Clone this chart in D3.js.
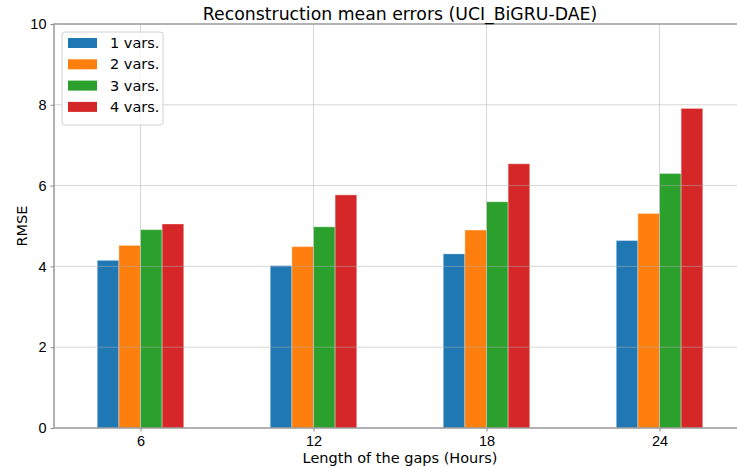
<!DOCTYPE html>
<html>
<head>
<meta charset="utf-8">
<script src="https://cdn.jsdelivr.net/npm/d3@7"></script>
<style>
  body { margin: 0; background: #fff; }
  svg { display: block; font-family: "DejaVu Sans", sans-serif; }
  .tick text { font-size: 14.5px; fill: #000; }
</style>
</head>
<body>
<svg id="chart"></svg>
<script>
// gap lengths (hours) on the x axis
const gaps = [6, 12, 18, 24];
const seriesNames = ['1 vars.', '2 vars.', '3 vars.', '4 vars.'];
// RMSE per series, one value per gap length
const vars1 = [4.15, 4.02, 4.31, 4.64];
const vars2 = [4.52, 4.49, 4.90, 5.31];
const vars3 = [4.91, 4.98, 5.60, 6.30];
const vars4 = [5.05, 5.77, 6.54, 7.91];
const yTicks = [0, 2, 4, 6, 8, 10];

const seriesValues = [vars1, vars2, vars3, vars4];
const colors = ['#1f77b4', '#ff7f0e', '#2ca02c', '#d62728'];

const width = 737, height = 469;
const margin = {top: 24, right: -9, bottom: 41, left: 54};
const innerW = width - margin.left - margin.right;
const innerH = height - margin.top - margin.bottom;

const svg = d3.select('#chart')
    .attr('width', width)
    .attr('height', height);

const chart = svg.append('g')
    .attr('transform', `translate(${margin.left},${margin.top})`);

// linear x scale so bars sit around the tick like matplotlib's offset bars
const xScale = d3.scaleLinear().domain([3, 27]).range([0, innerW]);
const yScale = d3.scaleLinear().domain([0, 10]).range([innerH, 0]);
const barW = 0.75;

// bars
seriesValues.forEach((vals, i) => {
  chart.selectAll(`.bar-${i}`)
    .data(vals.map((v, j) => ({x: gaps[j], y: v})))
    .join('rect')
      .attr('class', `bar-${i}`)
      .attr('x', d => xScale(d.x + (i - 2) * barW))
      .attr('width', xScale(barW) - xScale(0))
      .attr('y', d => yScale(d.y))
      .attr('height', d => innerH - yScale(d.y))
      .attr('fill', colors[i])
      .attr('stroke', '#fff')
      .attr('stroke-opacity', 0.35)
      .attr('stroke-width', 1);
});

// grid on top of bars
const grid = chart.append('g').attr('class', 'grid');
grid.selectAll('.hgrid')
  .data(yTicks.slice(1, -1))
  .join('line')
    .attr('x1', 0).attr('x2', innerW)
    .attr('y1', d => yScale(d)).attr('y2', d => yScale(d))
    .attr('stroke', '#b0b0b0').attr('stroke-opacity', 0.5).attr('stroke-width', 1);
grid.selectAll('.vgrid')
  .data(gaps)
  .join('line')
    .attr('x1', d => xScale(d)).attr('x2', d => xScale(d))
    .attr('y1', 0).attr('y2', innerH)
    .attr('stroke', '#b0b0b0').attr('stroke-opacity', 0.5).attr('stroke-width', 1);

// axes
const xAxis = d3.axisBottom(xScale).tickValues(gaps).tickSize(3.5).tickPadding(4).tickSizeOuter(0);
const yAxis = d3.axisLeft(yScale).tickValues(yTicks).tickSize(3.5).tickPadding(4).tickSizeOuter(0);

const xAxisG = chart.append('g')
    .attr('transform', `translate(0,${innerH})`)
    .call(xAxis);
const yAxisG = chart.append('g').call(yAxis);

[xAxisG, yAxisG].forEach(g => {
  g.select('.domain').remove();
  g.selectAll('.tick line').attr('stroke', '#888');
});

// spines
chart.append('rect')
    .attr('x', 0).attr('y', 0)
    .attr('width', innerW).attr('height', innerH)
    .attr('fill', 'none')
    .attr('stroke', '#999')
    .attr('stroke-width', 1.5);

// title and axis labels
svg.append('text')
    .attr('x', margin.left + innerW / 2)
    .attr('y', 20)
    .attr('text-anchor', 'middle')
    .style('font-size', '17.3px')
    .text('Reconstruction mean errors (UCI_BiGRU-DAE)');

svg.append('text')
    .attr('x', margin.left + innerW / 2)
    .attr('y', 463)
    .attr('text-anchor', 'middle')
    .style('font-size', '14.5px')
    .text('Length of the gaps (Hours)');

svg.append('text')
    .attr('transform', `translate(27,${margin.top + innerH / 2}) rotate(-90)`)
    .attr('text-anchor', 'middle')
    .style('font-size', '14.5px')
    .text('RMSE');

// legend
const legend = chart.append('g').attr('transform', 'translate(8,8)');
legend.append('rect')
    .attr('width', 101).attr('height', 93)
    .attr('rx', 3)
    .attr('fill', '#fff').attr('fill-opacity', 0.8)
    .attr('stroke', '#d0d0d0');
const items = legend.selectAll('.item')
  .data(seriesNames)
  .join('g')
    .attr('transform', (d, i) => `translate(6,${11 + i * 21.3})`);
items.append('rect')
    .attr('y', -5)
    .attr('width', 29).attr('height', 10)
    .attr('fill', (d, i) => colors[i]);
items.append('text')
    .attr('x', 42).attr('y', 5)
    .style('font-size', '14.5px')
    .text(d => d);
</script>
</body>
</html>
